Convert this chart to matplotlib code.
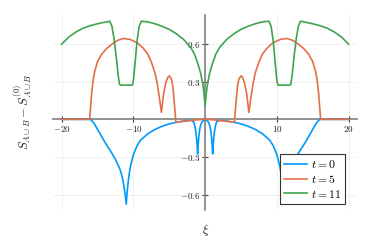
import matplotlib
matplotlib.use("Agg")
import matplotlib.pyplot as plt
import numpy as np

plt.rcParams['mathtext.fontset'] = 'cm'
plt.rcParams['font.family'] = ['DejaVu Serif']

# t = 0 (blue)
xi0 = [-20, -16.0, -15.5, -15.0, -14.5, -14.0, -13.5, -13.0, -12.5, -12.0, -11.8, -11.6, -11.45,
       -11.3, -11.15, -11.0, -10.85, -10.7, -10.55, -10.4, -10.0, -9.5, -9.0, -8.0, -7.0, -6.0,
       -5.0, -4.0, -3.0, -2.0, -1.6, -1.4, -1.25, -1.15, -1.05, -0.95, -0.85, -0.7, -0.45, 0.0,
       0.45, 0.7, 0.85, 0.95, 1.05, 1.15, 1.25, 1.4, 1.6, 2.0, 3.0, 4.0, 5.0, 6.0, 7.0, 8.0,
       9.0, 9.5, 10.0, 10.4, 10.55, 10.7, 10.85, 11.0, 11.15, 11.3, 11.45, 11.6, 11.8, 12.0,
       12.5, 13.0, 13.5, 14.0, 14.5, 15.0, 15.5, 16.0, 20]
s0 = [0, 0, -0.03, -0.08, -0.13, -0.18, -0.225, -0.27, -0.32, -0.38, -0.41, -0.45, -0.49,
      -0.54, -0.6, -0.675, -0.56, -0.48, -0.42, -0.37, -0.28, -0.21, -0.165, -0.115, -0.08,
      -0.055, -0.036, -0.023, -0.013, -0.007, -0.02, -0.06, -0.12, -0.18, -0.275, -0.18, -0.12,
      -0.06, -0.02, 0.0,
      -0.02, -0.06, -0.12, -0.18, -0.275, -0.18, -0.12, -0.06, -0.02, -0.007, -0.013, -0.023,
      -0.036, -0.055, -0.08, -0.115, -0.165, -0.21, -0.28, -0.37, -0.42, -0.48, -0.56, -0.675,
      -0.6, -0.54, -0.49, -0.45, -0.41, -0.38, -0.32, -0.27, -0.225, -0.18, -0.13, -0.08,
      -0.03, 0, 0]

# t = 5 (orange)
xi5 = [-20, -16.1, -16.0, -15.8, -15.6, -15.4, -15.0, -14.4, -13.7, -13.0, -12.2, -11.4, -10.5,
       -9.5, -8.7, -8.0, -7.5, -7.0, -6.7, -6.4, -6.1, -5.8, -5.5, -5.2, -5.0, -4.7, -4.5,
       -4.3, -4.15, -4.1, -3.0, -2.0, -1.0, 0.0,
       1.0, 2.0, 3.0, 4.1, 4.15, 4.3, 4.5, 4.7, 5.0, 5.2, 5.5, 5.8, 6.1, 6.4, 6.7, 7.0, 7.5,
       8.0, 8.7, 9.5, 10.5, 11.4, 12.2, 13.0, 13.7, 14.4, 15.0, 15.4, 15.6, 15.8, 16.0, 16.1, 20]
s5 = [0, 0, 0.08, 0.22, 0.32, 0.38, 0.46, 0.52, 0.565, 0.598, 0.628, 0.643, 0.636,
      0.61, 0.57, 0.52, 0.455, 0.37, 0.29, 0.18, 0.055, 0.2, 0.29, 0.335, 0.345, 0.32, 0.26,
      0.13, 0.03, -0.022, -0.016, -0.009, -0.003, 0.0,
      -0.003, -0.009, -0.016, -0.022, 0.03, 0.13, 0.26, 0.32, 0.345, 0.335, 0.29, 0.2, 0.055,
      0.18, 0.29, 0.37, 0.455, 0.52, 0.57, 0.61, 0.636, 0.643, 0.628, 0.598, 0.565, 0.52,
      0.46, 0.38, 0.32, 0.22, 0.08, 0, 0]

# t = 11 (green)
xi11 = [-20, -19, -18, -17, -16, -15, -14, -13.3, -13.0, -12.7, -12.4, -12.15, -11.95, -11.8,
        -10.5, -10.15, -10.0, -9.8, -9.5, -9.2, -8.9, -8.0, -7.0, -6.0, -5.0, -4.0, -3.0,
        -2.0, -1.5, -1.0, -0.6, -0.3, -0.15, 0.0,
        0.15, 0.3, 0.6, 1.0, 1.5, 2.0, 3.0, 4.0, 5.0, 6.0, 7.0, 8.0, 8.9, 9.2, 9.5, 9.8, 10.0,
        10.15, 10.5, 11.8, 11.95, 12.15, 12.4, 12.7, 13.0, 13.3, 14, 15, 16, 17, 18, 19, 20]
s11 = [0.598, 0.655, 0.695, 0.725, 0.745, 0.76, 0.772, 0.78, 0.74, 0.64, 0.5, 0.36, 0.28, 0.272,
       0.272, 0.272, 0.31, 0.43, 0.62, 0.74, 0.78, 0.775, 0.76, 0.74, 0.715, 0.68, 0.635,
       0.57, 0.52, 0.44, 0.36, 0.27, 0.2, 0.11,
       0.2, 0.27, 0.36, 0.44, 0.52, 0.57, 0.635, 0.68, 0.715, 0.74, 0.76, 0.775, 0.78, 0.74,
       0.62, 0.43, 0.31, 0.272, 0.272, 0.272, 0.28, 0.36, 0.5, 0.64, 0.74, 0.78, 0.772, 0.76,
       0.745, 0.725, 0.695, 0.655, 0.598]

labels = [r'$t = 0$', r'$t = 5$', r'$t = 11$']
colors = ['#009AFA', '#E36F47', '#3EA44E']
xticks = [-20, -10, 10, 20]
xticklabels = [r'$-20$', r'$-10$', r'$10$', r'$20$']
yticks = [-0.6, -0.3, 0.3, 0.6]
yticklabels = [r'$-0.6$', r'$-0.3$', r'$0.3$', r'$0.6$']

fig = plt.figure(figsize=(3.74, 2.49), dpi=100)
ax = fig.add_axes([0.142, 0.157, 0.813, 0.783])

for xs, ys, lab, c in zip([xi0, xi5, xi11], [s0, s5, s11], labels, colors):
    ax.plot(xs, ys, color=c, lw=1.2, label=lab, solid_joinstyle='round')

ax.set_xlim(-21.2, 21.2)
ax.set_ylim(-0.72, 0.83)

for side in ['top', 'right']:
    ax.spines[side].set_visible(False)
ax.spines['left'].set_position(('data', 0))
ax.spines['bottom'].set_position(('data', 0))
for side in ['left', 'bottom']:
    ax.spines[side].set_color('#808080')
    ax.spines[side].set_linewidth(1.2)
    ax.spines[side].set_zorder(1)

ax.set_xticks(xticks)
ax.set_xticklabels(xticklabels)
ax.set_yticks(yticks)
ax.set_yticklabels(yticklabels)
ax.tick_params(direction='inout', length=4, width=0.8, color='#404040', labelsize=6.5,
               pad=1.5, labelcolor='#222222')
ax.grid(True, color='#eeeeee', lw=0.6, zorder=0)
ax.set_axisbelow(True)

fig.text(0.549, 0.075, r'$\xi$', ha='center', va='center', fontsize=9, color='#222222')
fig.text(0.062, 0.55, r'$S_{A\cup B} - S^{(0)}_{A\cup B}$', ha='center', va='center',
         rotation=90, fontsize=9, color='#222222')

leg = ax.legend(loc='lower right', bbox_to_anchor=(0.96, 0.03), fontsize=8.5, frameon=True,
                fancybox=False, framealpha=1, edgecolor='#333333', handlelength=2.0,
                handletextpad=0.3, borderpad=0.3, labelspacing=0.15, borderaxespad=0)
leg.get_frame().set_linewidth(0.8)

fig.savefig('out.png', dpi=100)
